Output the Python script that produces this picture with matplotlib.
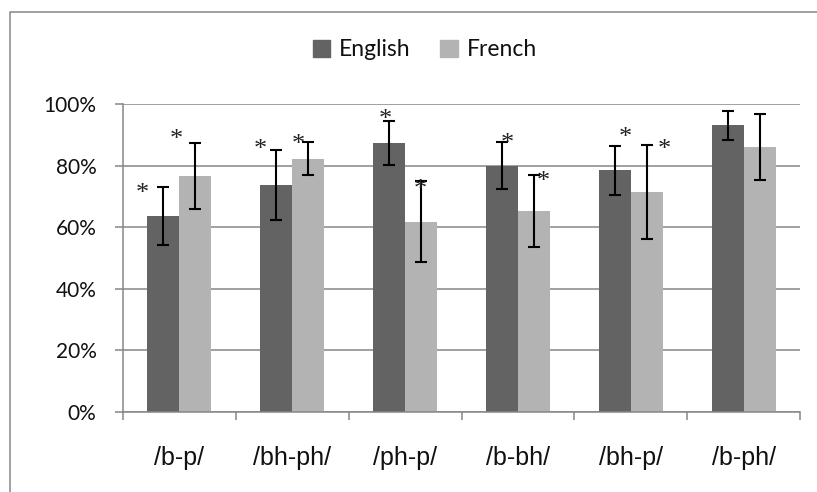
import matplotlib
matplotlib.use('Agg')
import matplotlib.pyplot as plt
from matplotlib.patches import Patch
from matplotlib.lines import Line2D
import numpy as np

# values (proportion correct)
contrasts = ['/b-p/', '/bh-ph/', '/ph-p/', '/b-bh/', '/bh-p/', '/b-ph/']
english = [0.636, 0.737, 0.873, 0.800, 0.784, 0.931]
french = [0.766, 0.822, 0.618, 0.652, 0.714, 0.860]
english_err = [0.095, 0.115, 0.071, 0.075, 0.080, 0.047]
french_err = [0.106, 0.053, 0.132, 0.118, 0.154, 0.106]

# significance markers: (x in category units, y in data units)
star_x = [-0.325, -0.024, 0.721, 1.054, 1.823, 2.139, 2.902, 3.221, 3.950, 4.299]
star_y = [0.732, 0.907, 0.875, 0.891, 0.972, 0.744, 0.892, 0.770, 0.914, 0.873]

dark = '#636363'
light = '#b3b3b3'
grid_col = '#868686'

fig = plt.figure(figsize=(8.17, 4.92), dpi=100)
ax = fig.add_axes([123/817, 1 - 411.7/492, 677/817, 307.7/492])

# outer chart border: only the left and top edges show in the reference
bx, by = 9.5/817, 1 - 12/492
fig.add_artist(Line2D([bx, bx, 1.01], [-0.01, by, by], transform=fig.transFigure,
                      color=grid_col, linewidth=1.1))

x = np.arange(len(contrasts))
w = 0.284
ekw = dict(ecolor='black', elinewidth=1.5, capsize=4.3, capthick=1.5)
ax.bar(x - w/2, english, w, color=dark, yerr=english_err, error_kw=ekw, zorder=2, label='English')
ax.bar(x + w/2, french, w, color=light, yerr=french_err, error_kw=ekw, zorder=2, label='French')

for sx, sy in zip(star_x, star_y):
    ax.annotate('*', (sx, sy), xytext=(0, -9.5), textcoords='offset points',
                ha='center', va='baseline', fontsize=19, family='Liberation Serif',
                color='#222222', zorder=4)

ax.set_xlim(-0.5, len(contrasts) - 0.5)
ax.set_ylim(0, 1)
ax.set_yticks(np.arange(0, 1.01, 0.2))
ax.set_yticklabels([f'{int(round(v*100))}%' for v in np.arange(0, 1.01, 0.2)],
                   family='Lato', fontsize=15, color='#111111')
ax.yaxis.grid(True, color=grid_col, linewidth=1.1, zorder=0)
ax.set_axisbelow(True)

ax.set_xticks(x)
ax.set_xticklabels(contrasts, family='Liberation Sans', fontsize=18, color='#111111')
ax.set_xticks(np.arange(-0.5, len(contrasts)), minor=True)
ax.tick_params(axis='x', which='major', length=0, pad=25)
ax.tick_params(axis='x', which='minor', length=6, width=1.1, color=grid_col, direction='out')
ax.tick_params(axis='y', length=6, width=1.1, color=grid_col, pad=13)

for s in ['top', 'right']:
    ax.spines[s].set_visible(False)
for s in ['left', 'bottom']:
    ax.spines[s].set_color(grid_col)
    ax.spines[s].set_linewidth(1.1)

handles = [Patch(color=dark, label='English'), Patch(color=light, label='French')]
fig.legend(handles=handles, loc='center', bbox_to_anchor=(0.52, 1 - 50/492), ncol=2,
           frameon=False, prop={'family': 'Lato', 'size': 16.5}, handlelength=0.75,
           handleheight=0.75, handletextpad=0.4, columnspacing=1.3, labelcolor='#111111')

fig.savefig('out.png', dpi=100)
